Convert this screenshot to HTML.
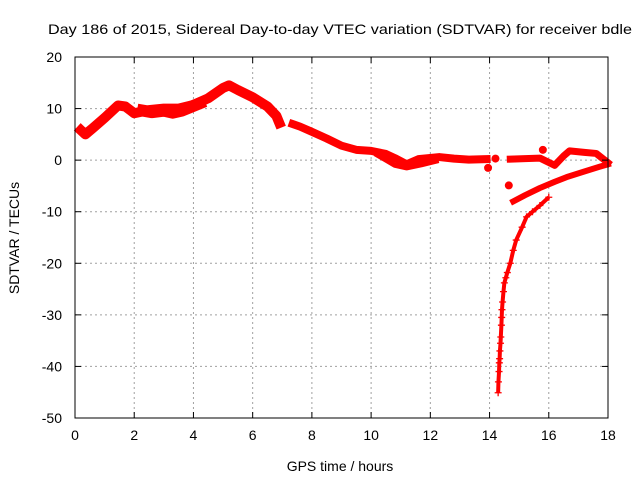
<!DOCTYPE html>
<html><head><meta charset="utf-8"><style>
body{margin:0;background:#fff;}
svg{display:block;font-family:"Liberation Sans",sans-serif;}
</style></head><body>
<svg id="chart" width="640" height="480" viewBox="0 0 640 480">
<rect width="640" height="480" fill="#fff"/>
<text x="340" y="34" font-size="14" text-anchor="middle" textLength="584" lengthAdjust="spacingAndGlyphs">Day 186 of 2015, Sidereal Day-to-day VTEC variation (SDTVAR) for receiver bdle</text>
<g id="grid"></g>
<g id="series"></g>
<rect x="75" y="57" width="533" height="361" fill="none" stroke="#000" stroke-width="1"/>
<g id="ticks"></g>
<text x="340" y="471" font-size="14" text-anchor="middle">GPS time / hours</text>
<text transform="translate(19,238) rotate(-90)" font-size="14" text-anchor="middle">SDTVAR / TECUs</text>
</svg>
<script>
const xTicks=[0,2,4,6,8,10,12,14,16,18];
const yTicks=[20,10,0,-10,-20,-30,-40,-50];
const bandMain=[[0.2,5.8],[0.35,5.0],[0.6,6.2],[1.0,8.2],[1.45,10.6],[1.7,10.4],[2.0,9.1],[2.5,9.7],[3.0,10.0],[3.5,10.0],[4.0,10.7],[4.5,12.0],[5.0,14.0],[5.2,14.5],[5.5,13.6],[6.0,12.2],[6.5,10.4],[6.8,8.6],[6.9,7.2]];
const bandNoisy=[[2.3,9.6],[2.6,9.3],[3.0,9.6],[3.3,9.2],[3.6,9.6],[3.9,10.3],[4.2,11.0]];
const bandMid=[[7.35,7.0],[7.6,6.5],[8.0,5.5],[8.5,4.2],[9.0,2.8],[9.5,2.0],[10.0,1.8],[10.5,1.2],[10.8,0.4],[11.2,-0.8],[11.6,0.2],[12.3,0.6],[12.8,0.3],[13.3,0.1],[13.9,0.2]];
const bandMidLow=[[10.2,1.0],[10.8,-1.0],[11.2,-1.5],[11.7,-0.9],[12.2,-0.2]];
const bandUpper=[[14.7,0.2],[15.2,0.3],[15.7,0.4],[16.2,-1.0],[16.5,0.8],[16.7,1.8],[17.2,1.5],[17.6,1.3],[18.0,-0.5]];
const bandLower=[[14.8,-8.0],[15.2,-6.8],[15.7,-5.4],[16.2,-4.2],[16.6,-3.3],[17.2,-2.2],[17.7,-1.3],[18.0,-0.8]];
const blobs=[[14.2,0.3],[14.65,-4.9],[13.95,-1.5],[15.8,2.0]];
const tailX=[16.0,15.7,15.45,15.25,15.1,14.9,14.8,14.7,14.6,14.55,14.5,14.47,14.44,14.42,14.41,14.4,14.38,14.37,14.35,14.34,14.33,14.32,14.3,14.29];
const tailY=[-7.2,-8.8,-10.0,-11.0,-13.0,-15.5,-17.5,-20.0,-21.8,-22.8,-23.8,-25.5,-27.5,-29.0,-30.5,-32.0,-34.3,-35.5,-37.0,-38.5,-39.3,-41.0,-43.0,-45.1];
const NS="http://www.w3.org/2000/svg";
const X0=75,X1=608,Y0=57,Y1=418;
function sx(h){return X0+(h-0)/(18-0)*(X1-X0);}
function sy(v){return Y0+(20-v)/(20-(-50))*(Y1-Y0);}
function mk(t,a,p){const e=document.createElementNS(NS,t);for(const k in a)e.setAttribute(k,a[k]);p.appendChild(e);return e;}
const grid=document.getElementById('grid'),ticks=document.getElementById('ticks'),ser=document.getElementById('series');
xTicks.forEach(t=>{const x=sx(t);
 if(t>0&&t<18){const l=mk('line',{x1:x,x2:x,y1:Y0,y2:Y1,stroke:'#a0a0a0','stroke-dasharray':'2,3'},grid);
 
 }
 mk('line',{x1:x,x2:x,y1:Y1,y2:Y1-6,stroke:'#000'},ticks);
 mk('line',{x1:x,x2:x,y1:Y0,y2:Y0+6,stroke:'#000'},ticks);
 const tx=mk('text',{x:x,y:Y1+22,'font-size':14,'text-anchor':'middle'},ticks);tx.textContent=t;
 
 });
yTicks.forEach(t=>{const y=sy(t);
 if(t<20&&t>-50){const l=mk('line',{x1:X0,x2:X1,y1:y,y2:y,stroke:'#a0a0a0','stroke-dasharray':'2,3'},grid);
 
 }
 mk('line',{x1:X0,x2:X0+6,y1:y,y2:y,stroke:'#000'},ticks);
 mk('line',{x1:X1,x2:X1-6,y1:y,y2:y,stroke:'#000'},ticks);
 const tx=mk('text',{x:X0-13,y:y+5,'font-size':14,'text-anchor':'end'},ticks);tx.textContent=t;
 
 });
function band(arr,w,name){const p=mk('polyline',{points:arr.map(d=>sx(d[0])+','+sy(d[1])).join(' '),fill:'none',stroke:'#f00','stroke-width':w,'stroke-linejoin':'round','stroke-linecap':'square'},ser);
 
 }
band(bandMain,10,'trace-morning');
band(bandNoisy,12,'trace-morning-noisy');
band(bandMid,8,'trace-midday');
band(bandMidLow,5,'trace-midday-low');
band(bandUpper,7,'trace-evening-upper');
band(bandLower,6,'trace-evening-lower');
function plus(x,y,s){mk('path',{d:`M${x-s},${y}h${2*s}M${x},${y-s}v${2*s}`,stroke:'#f00','stroke-width':1.3,fill:'none'},ser);}
blobs.forEach(d=>{const c=mk('circle',{cx:sx(d[0]),cy:sy(d[1]),r:4,fill:'#f00'},ser);
 
 });
const tp=mk('polyline',{points:tailX.map((h,i)=>sx(h)+','+sy(tailY[i])).join(' '),fill:'none',stroke:'#f00','stroke-width':4},ser);


tailX.forEach((h,i)=>plus(sx(h),sy(tailY[i]),3.5));
</script>
</body></html>
